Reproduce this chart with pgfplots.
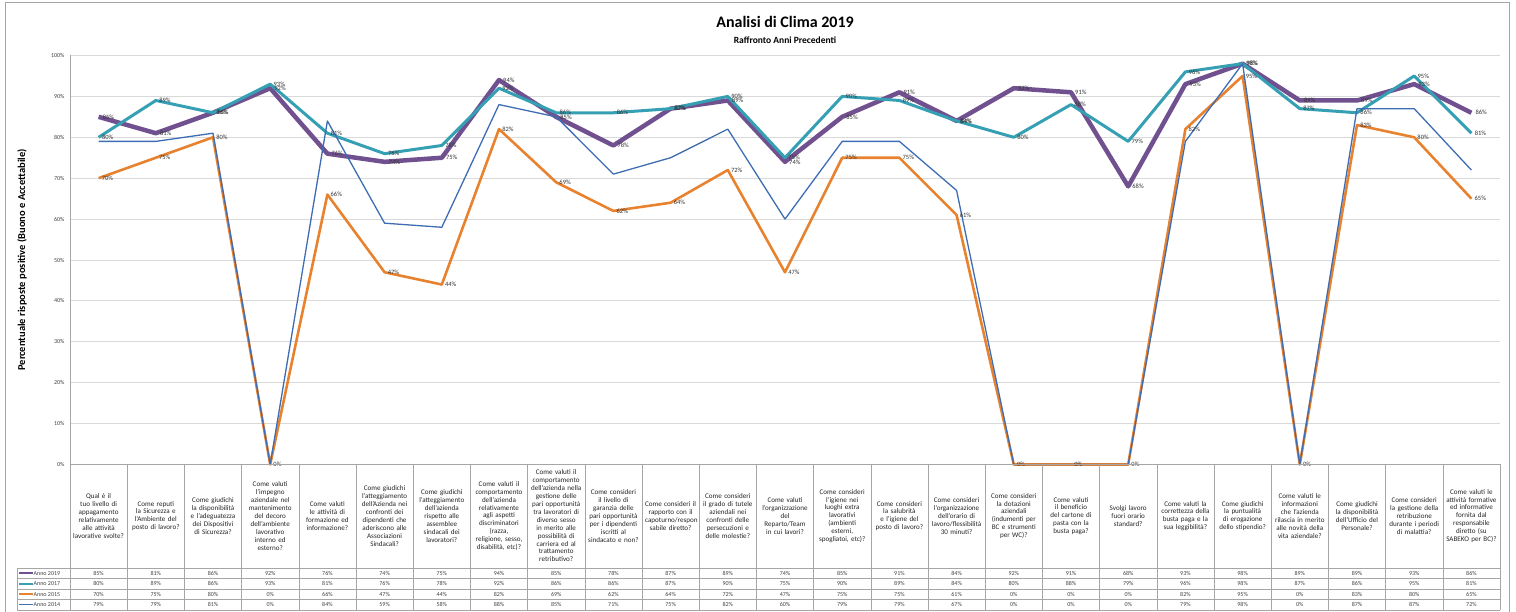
\documentclass[border=0pt]{standalone}
\usepackage{pgfplots}
\pgfplotsset{compat=1.18}
\usepackage{fontspec}
\setmainfont{Carlito}
\definecolor{c19}{HTML}{70508F}
\definecolor{c17}{HTML}{35A0B4}
\definecolor{c15}{HTML}{E8822E}
\definecolor{c14}{HTML}{3E6DB4}
\definecolor{gridc}{HTML}{D9D9D9}
\definecolor{tabc}{HTML}{A6A6A6}
\begin{document}
\hyphenpenalty=10000
\exhyphenpenalty=10000
\begin{tikzpicture}[x=1pt,y=1pt]
\useasboundingbox (0,0) rectangle (1516,611);
\draw[tabc, line width=0.8pt] (5,-3) rectangle (1509,609);
\begin{axis}[
  at={(70pt,146.5pt)}, anchor=south west,
  scale only axis, width=1430pt, height=409pt,
  xmin=-0.5, xmax=24.5, ymin=0, ymax=100,
  clip=false,
  axis lines*=left,
  x axis line style={draw=none},
  y axis line style={draw=tabc, line width=0.8pt},
  xtick=\empty,
  ytick={0,10,...,100},
  major tick length=0pt,
  /pgf/number format/assume math mode=true,
  yticklabel={\pgfmathprintnumber{\tick}\%},
  yticklabel style={font=\fontsize{6}{7}\selectfont, text=black!75, xshift=-2pt},
  ymajorgrids, grid style={gridc, line width=0.8pt},
  every node near coord/.append style={anchor=west, font=\fontsize{6.5}{7}\selectfont, text=black!80, inner sep=1pt, xshift=1pt},
]
\addplot[c19, line width=4.5pt, line join=round, nodes near coords={\pgfmathprintnumber[fixed,precision=0]{\pgfplotspointmeta}\%}] coordinates {
(0,85)(1,81)(2,86)(3,92)(4,76)(5,74)(6,75)(7,94)(8,85)(9,78)(10,87)(11,89)(12,74)(13,85)(14,91)(15,84)(16,92)(17,91)(18,68)(19,93)(20,98)(21,89)(22,89)(23,93)(24,86)};
\addplot[c17, line width=3pt, line join=round, nodes near coords={\pgfmathprintnumber[fixed,precision=0]{\pgfplotspointmeta}\%}] coordinates {
(0,80)(1,89)(2,86)(3,93)(4,81)(5,76)(6,78)(7,92)(8,86)(9,86)(10,87)(11,90)(12,75)(13,90)(14,89)(15,84)(16,80)(17,88)(18,79)(19,96)(20,98)(21,87)(22,86)(23,95)(24,81)};
\addplot[c15, line width=2.6pt, line join=round, nodes near coords={\pgfmathprintnumber[fixed,precision=0]{\pgfplotspointmeta}\%}] coordinates {
(0,70)(1,75)(2,80)(3,0)(4,66)(5,47)(6,44)(7,82)(8,69)(9,62)(10,64)(11,72)(12,47)(13,75)(14,75)(15,61)(16,0)(17,0)(18,0)(19,82)(20,95)(21,0)(22,83)(23,80)(24,65)};
\addplot[c14, line width=1.3pt, line join=round] coordinates {
(0,79)(1,79)(2,81)(3,0)(4,84)(5,59)(6,58)(7,88)(8,85)(9,71)(10,75)(11,82)(12,60)(13,79)(14,79)(15,67)(16,0)(17,0)(18,0)(19,79)(20,98)(21,0)(22,87)(23,87)(24,72)};
\end{axis}
% titles
\node[font=\bfseries\fontsize{16}{18}\selectfont] at (785,589) {Analisi di Clima 2019};
\node[font=\bfseries\fontsize{9.5}{11}\selectfont] at (785,571) {Raffronto Anni Precedenti};
\node[rotate=90, font=\bfseries\fontsize{10.5}{12}\selectfont] at (22,351) {Percentuale risposte positive (Buono e Accettabile)};
% table grid
\draw[tabc, line width=0.6pt] (70,146.5) -- (1500,146.5);
\foreach \yy in {43,32.5,22,11.5,1} {\draw[tabc, line width=0.6pt] (17,\yy) -- (1500,\yy);}
\foreach \k in {0,...,25} {\draw[tabc, line width=0.6pt] ({70+57.2*\k},146.5) -- ({70+57.2*\k},1);}
\draw[tabc, line width=0.6pt] (17,43) -- (17,1);
% category labels
\foreach \t [count=\i] in {
{Qual è il tuo livello di appagamento relativamente alle attività lavorative svolte?},
{Come reputi la Sicurezza e l'Ambiente del posto di lavoro?},
{Come giudichi la disponibilità e l'adeguatezza dei Dispositivi di Sicurezza?},
{Come valuti l'impegno aziendale nel mantenimento del decoro dell'ambiente lavorativo interno ed esterno?},
{Come valuti le attività di formazione ed informazione?},
{Come giudichi l'atteggiamento dell'Azienda nei confronti dei dipendenti che aderiscono alle Associazioni Sindacali?},
{Come giudichi l'atteggiamento dell'azienda rispetto alle assemblee sindacali dei lavoratori?},
{Come valuti il comportamento dell'azienda relativamente agli aspetti discriminatori (razza, religione, sesso, disabilità, etc)?},
{Come valuti il comportamento dell'azienda nella gestione delle pari opportunità tra lavoratori di diverso sesso in merito alle possibilità di carriera ed al trattamento retributivo?},
{Come consideri il livello di garanzia delle pari opportunità per i dipendenti iscritti al sindacato e non?},
{Come consideri il rapporto con il capoturno/respon\\sabile diretto?},
{Come consideri il grado di tutele aziendali nei confronti delle persecuzioni e delle molestie?},
{Come valuti l'organizzazione del Reparto/Team in cui lavori?},
{Come consideri l'igiene nei luoghi extra lavorativi (ambienti esterni, spogliatoi, etc)?},
{Come consideri la salubrità e l'igiene del posto di lavoro?},
{Come consideri l'organizzazione dell'orario di lavoro/flessibilità 30 minuti?},
{Come consideri la dotazioni aziendali (indumenti per BC e strumenti per WC)?},
{Come valuti il beneficio del cartone di pasta con la busta paga?},
{Svolgi lavoro fuori orario standard?},
{Come valuti la correttezza della busta paga e la sua leggibilità?},
{Come giudichi la puntualità di erogazione dello stipendio?},
{Come valuti le informazioni che l'azienda rilascia in merito alle novità della vita aziendale?},
{Come giudichi la disponibilità dell'Ufficio del Personale?},
{Come consideri la gestione della retribuzione durante i periodi di malattia?},
{Come valuti le attività formative ed informative fornita dal responsabile diretto (su SABEKO per BC)?}
} {\node[text width=51pt, align=center, inner sep=0pt, font=\fontsize{7.1}{7.9}\selectfont, text=black!85] at ({70+57.2*(\i-0.5)},95) {\t};}
% values rows
\foreach \v [count=\i] in {85,81,86,92,76,74,75,94,85,78,87,89,74,85,91,84,92,91,68,93,98,89,89,93,86}
  {\node[font=\fontsize{6}{7}\selectfont, text=black!75] at ({70+57.2*(\i-0.5)},37.75) {\v\%};}
\foreach \v [count=\i] in {80,89,86,93,81,76,78,92,86,86,87,90,75,90,89,84,80,88,79,96,98,87,86,95,81}
  {\node[font=\fontsize{6}{7}\selectfont, text=black!75] at ({70+57.2*(\i-0.5)},27.25) {\v\%};}
\foreach \v [count=\i] in {70,75,80,0,66,47,44,82,69,62,64,72,47,75,75,61,0,0,0,82,95,0,83,80,65}
  {\node[font=\fontsize{6}{7}\selectfont, text=black!75] at ({70+57.2*(\i-0.5)},16.75) {\v\%};}
\foreach \v [count=\i] in {79,79,81,0,84,59,58,88,85,71,75,82,60,79,79,67,0,0,0,79,98,0,87,87,72}
  {\node[font=\fontsize{6}{7}\selectfont, text=black!75] at ({70+57.2*(\i-0.5)},6.25) {\v\%};}
% legend keys
\draw[c19, line width=2.2pt] (19,37.75) -- (33,37.75);
\draw[c17, line width=2pt] (19,27.25) -- (33,27.25);
\draw[c15, line width=1.8pt] (19,16.75) -- (33,16.75);
\draw[c14, line width=1pt] (19,6.25) -- (33,6.25);
\foreach \n/\yy in {2019/37.75,2017/27.25,2015/16.75,2014/6.25}
  {\node[anchor=west, inner sep=0.5pt, font=\fontsize{6}{7}\selectfont, text=black!75] at (33,\yy) {Anno \n};}
\end{tikzpicture}
\end{document}
